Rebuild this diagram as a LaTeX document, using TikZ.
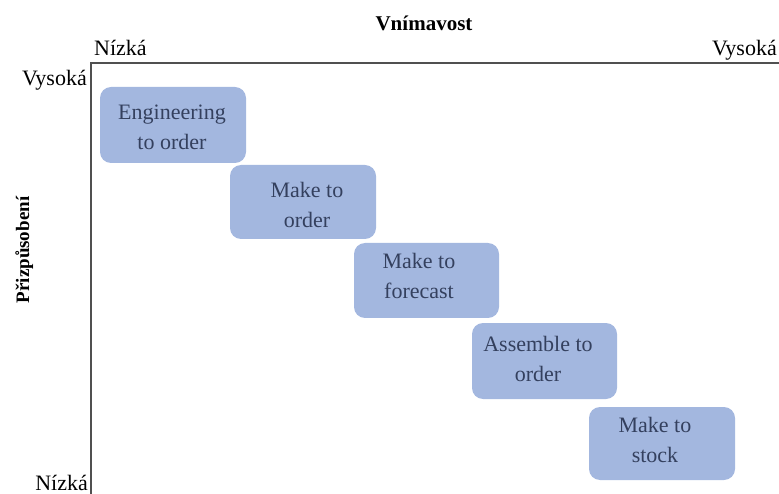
\documentclass[tikz,border=0pt]{standalone}
\usepackage{fontspec}
\setmainfont{Liberation Serif}
\definecolor{boxfill}{HTML}{A3B7DF}
\definecolor{boxtext}{HTML}{34405E}
\definecolor{axisline}{HTML}{505050}
\tikzset{
  stagebox/.style={fill=boxfill, rounded corners=11pt, inner sep=0pt},
  stagetext/.style={text=boxtext, align=center, font=\fontsize{22}{30}\selectfont, inner sep=0pt},
  axislabel/.style={font=\fontsize{22}{26}\selectfont, inner sep=0pt},
  axistitle/.style={font=\fontsize{21}{26}\selectfont\bfseries, inner sep=0pt},
}
\begin{document}
\begin{tikzpicture}[x=1pt, y=-1pt]
  \useasboundingbox (0,0) rectangle (779,494);
  % axes
  \coordinate (origin) at (91,63);
  \coordinate (xend) at (779,63);
  \coordinate (yend) at (91,494);
  \draw[axisline, line width=1.8pt] (xend) -- (origin) -- (yend);
  % axis titles and ends
  \node[axistitle, anchor=base] (xtitle) at (424,31) {Vnímavost};
  \node[axislabel, anchor=base west] (xlow) at (94,56) {Nízká};
  \node[axislabel, anchor=base east] (xhigh) at (777,56) {Vysoká};
  \node[axistitle, rotate=90, anchor=base, font=\fontsize{19}{24}\selectfont\bfseries] (ytitle) at (29,250) {Přizpůsobení};
  \node[axislabel, anchor=base east] (yhigh) at (87,86) {Vysoká};
  \node[axislabel, anchor=base east] (ylow) at (88,490) {Nízká};
  % stages
  \node[stagebox, minimum width=146pt, minimum height=76pt] (b1) at (173,125) {};
  \node[stagebox, minimum width=146pt, minimum height=74pt] (b2) at (303,202) {};
  \node[stagebox, minimum width=145pt, minimum height=75pt] (b3) at (426.5,280.5) {};
  \node[stagebox, minimum width=145pt, minimum height=76pt] (b4) at (544.5,361) {};
  \node[stagebox, minimum width=146pt, minimum height=73pt] (b5) at (662,443.5) {};
  \node[stagetext] (t1) at (172,127) {Engineering\\to order};
  \node[stagetext] (t2) at (307,205) {Make to\\order};
  \node[stagetext] (t3) at (419,276) {Make to\\forecast};
  \node[stagetext] (t4) at (538,359) {Assemble to\\order};
  \node[stagetext] (t5) at (655,440) {Make to\\stock};
\end{tikzpicture}
\end{document}
